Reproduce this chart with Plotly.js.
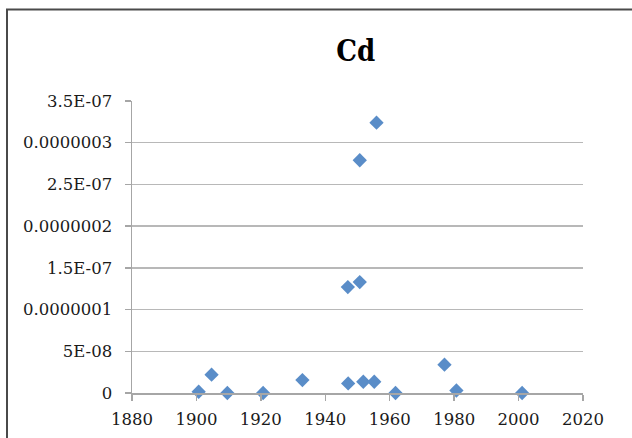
<!DOCTYPE html>
<html>
<head>
<meta charset="utf-8">
<script src="https://cdn.plot.ly/plotly-3.0.1.min.js"></script>
<style>
html,body{margin:0;padding:0;background:#fff;}
#chart{width:632px;height:438px;}
</style>
</head>
<body>
<div id="chart"></div>
<script>
const years = [1900.7, 1904.7, 1909.6, 1920.7, 1932.9, 1947.1, 1951.8, 1955.2, 1961.8, 1977.0, 1980.7, 2001.1, 1947.0, 1950.7, 1950.7, 1955.9];
const cd = [1.5e-9, 2.2e-8, 0, 0, 1.55e-8, 1.15e-8, 1.35e-8, 1.35e-8, 0, 3.4e-8, 3e-9, 0, 1.27e-7, 1.33e-7, 2.79e-7, 3.24e-7];
const yTickVals = [0, 5e-8, 1e-7, 1.5e-7, 2e-7, 2.5e-7, 3e-7, 3.5e-7];
const yTickText = ["0", "5E-08", "0.0000001", "1.5E-07", "0.0000002", "2.5E-07", "0.0000003", "3.5E-07"];
const xTickVals = [1880, 1900, 1920, 1940, 1960, 1980, 2000, 2020];
const titleText = "Cd";

const trace = {
  x: years, y: cd, type: 'scatter', mode: 'markers',
  marker: {symbol: 'diamond', size: 11, color: '#5a8dc8', line: {width: 0}},
  cliponaxis: false, hoverinfo: 'none'
};

const layout = {
  width: 632, height: 438,
  margin: {l: 132, r: 49, t: 101, b: 45},
  paper_bgcolor: '#ffffff', plot_bgcolor: '#ffffff',
  showlegend: false,
  font: {family: 'DejaVu Serif', size: 17, color: '#1a1a1a'},
  title: {text: titleText, x: 0.563, xanchor: 'center', y: 0.884, yanchor: 'middle',
          font: {family: 'DejaVu Serif Condensed, DejaVu Serif', size: 29, weight: 'bold', color: '#000'}},
  xaxis: {
    range: [1880, 2020], tickvals: xTickVals, ticktext: xTickVals.map(String),
    showgrid: false, zeroline: false, showline: true, linecolor: '#a6a6a6', linewidth: 1.5,
    ticks: 'outside', ticklen: 6, tickcolor: '#a6a6a6', tickwidth: 1.5, ticklabelstandoff: 5,
    tickfont: {family: 'DejaVu Serif', size: 16.5, color: '#1a1a1a'}, fixedrange: true
  },
  yaxis: {
    range: [0, 3.5e-7], tickvals: yTickVals, ticktext: yTickText,
    showgrid: true, gridcolor: '#b8b8b8', gridwidth: 1.5,
    zeroline: false, showline: true, linecolor: '#a6a6a6', linewidth: 1.5,
    ticks: 'outside', ticklen: 6, tickcolor: '#a6a6a6', tickwidth: 1.5, ticklabelstandoff: 9,
    tickfont: {family: 'DejaVu Serif', size: 16.5, color: '#1a1a1a'}, fixedrange: true
  },
  shapes: [{
    type: 'rect', xref: 'paper', yref: 'paper',
    x0: (7 - 132) / 451, x1: (660 - 132) / 451,
    y0: -(470 - 393) / 292, y1: (393 - 9.5) / 292,
    line: {color: '#4a4a4a', width: 2}, fillcolor: 'rgba(0,0,0,0)', layer: 'below'
  }]
};

Plotly.newPlot('chart', [trace], layout, {staticPlot: true, displayModeBar: false});
</script>
</body>
</html>
